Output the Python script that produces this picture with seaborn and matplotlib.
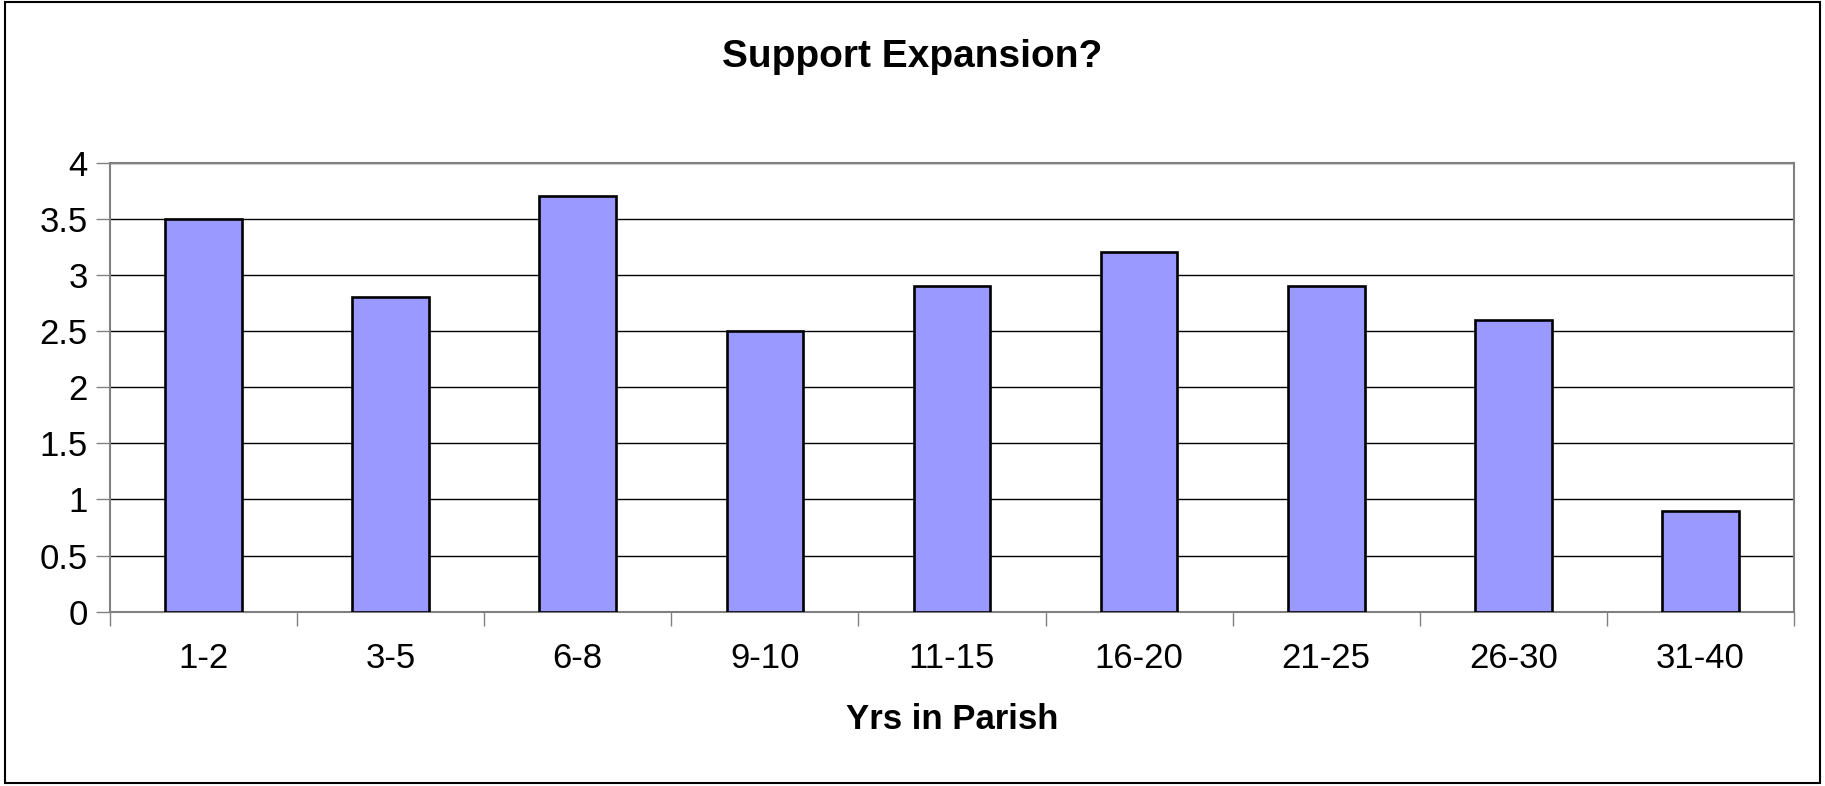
import matplotlib
matplotlib.use("Agg")
import matplotlib.pyplot as plt
import matplotlib.patches as patches
import numpy as np
import pandas as pd
import seaborn as sns

# Data
categories = ["1-2", "3-5", "6-8", "9-10", "11-15", "16-20", "21-25", "26-30", "31-40"]
values = [3.5, 2.8, 3.7, 2.5, 2.9, 3.2, 2.9, 2.6, 0.9]
y_ticks = [0, 0.5, 1, 1.5, 2, 2.5, 3, 3.5, 4]
y_tick_labels = ["0", "0.5", "1", "1.5", "2", "2.5", "3", "3.5", "4"]

df = pd.DataFrame({"yrs": categories, "support": values})

sns.set_style("white")
plt.rcParams["font.family"] = ["Liberation Sans", "DejaVu Sans"]
plt.rcParams["text.color"] = "black"
plt.rcParams["xtick.color"] = "black"
plt.rcParams["ytick.color"] = "black"
plt.rcParams["axes.labelcolor"] = "black"

fig = plt.figure(figsize=(18.25, 7.86), dpi=100)
ax = fig.add_axes([0.0603, 0.2218, 0.9227, 0.5712])

sns.barplot(data=df, x="yrs", y="support", color="#9999FF", saturation=1,
            edgecolor="black", linewidth=1.9, width=0.41, ax=ax, zorder=3)

ax.set_xlim(-0.5, len(categories) - 0.5)
ax.set_ylim(0, 4)
ax.set_yticks(y_ticks)
ax.set_yticklabels(y_tick_labels, fontsize=25)
ax.set_xticks(range(len(categories)))
ax.set_xticklabels(categories, fontsize=25)

# gridlines
ax.yaxis.grid(True, color="black", linewidth=1.0, zorder=0)
ax.set_axisbelow(True)

# tick marks: y outward, x at category boundaries
ax.tick_params(axis="y", which="major", length=10, width=1, color="#808080",
               direction="out", left=True, pad=6, labelcolor="black")
ax.tick_params(axis="x", which="major", length=0, pad=22, labelcolor="black")
ax.set_xticks(np.arange(-0.5, len(categories), 1), minor=True)
ax.tick_params(axis="x", which="minor", length=10, width=1, color="#808080",
               direction="out", bottom=True)

for side in ["left", "bottom", "top", "right"]:
    ax.spines[side].set_visible(True)
    ax.spines[side].set_color("#808080")
    ax.spines[side].set_linewidth(1.5)

ax.set_xlabel("Yrs in Parish", fontsize=25, fontweight="bold", labelpad=20,
              color="black")
ax.set_ylabel("")
fig.text(0.5, 0.927, "Support Expansion?", fontsize=28, fontweight="bold",
         ha="center", va="center", color="black")

# outer frame of the chart
fig.patches.append(patches.Rectangle((0.0025, 0.004), 0.9945, 0.993,
                                     transform=fig.transFigure, fill=False,
                                     edgecolor="black", linewidth=1.5))

fig.savefig("out.png", dpi=100)
